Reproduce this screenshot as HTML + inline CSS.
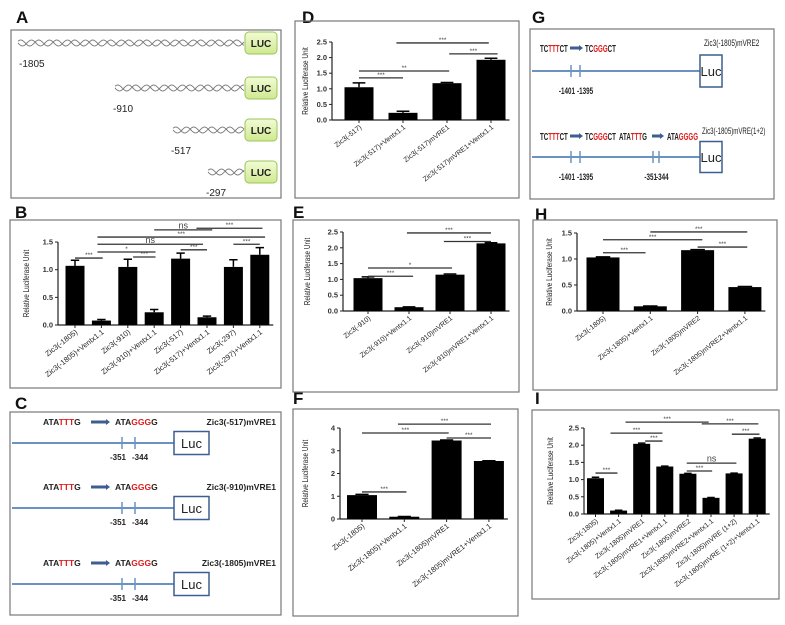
<!DOCTYPE html>
<html><head><meta charset="utf-8"><style>
html,body{margin:0;padding:0;background:#fff;width:785px;height:625px;overflow:hidden}
svg{display:block;font-family:"Liberation Sans",sans-serif}
</style></head><body>
<svg id="fig" width="785" height="625" viewBox="0 0 785 625" xmlns="http://www.w3.org/2000/svg">
<rect width="785" height="625" fill="#fff"/>
<g font-weight="bold" font-size="17" fill="#111">
<text x="16" y="23">A</text>
<text x="15" y="218">B</text>
<text x="15" y="409">C</text>
<text x="302" y="23">D</text>
<text x="293" y="218">E</text>
<text x="293" y="404">F</text>
<text x="532" y="23">G</text>
<text x="535" y="220">H</text>
<text x="535" y="404">I</text>
</g>
<g fill="none" stroke="#777" stroke-width="1.2">
<rect x="11" y="30" width="270" height="168"/>
<rect x="10" y="220" width="271" height="168"/>
<rect x="10" y="412" width="271" height="203"/>
<rect x="295" y="21" width="224" height="177"/>
<rect x="293" y="220" width="226" height="172"/>
<rect x="293" y="409" width="225" height="207"/>
<rect x="530" y="29" width="244" height="170"/>
<rect x="533" y="220" width="244" height="170"/>
<rect x="532" y="410" width="247" height="189"/>
</g>
<defs><linearGradient id="lg" x1="0" y1="0" x2="0" y2="1"><stop offset="0" stop-color="#f3fbd6"/><stop offset="1" stop-color="#cfe98f"/></linearGradient></defs>
<g id="pa"></g><g id="pc"></g><g id="pg"></g><g id="charts"></g>
</svg>
<script>
// ---- Panel B data ----
const bCats = ["Zic3(-1805)","Zic3(-1805)+Ventx1.1","Zic3(-910)","Zic3(-910)+Ventx1.1","Zic3(-517)","Zic3(-517)+Ventx1.1","Zic3(-297)","Zic3(-297)+Ventx1.1"];
const bVals = [1.07,0.08,1.05,0.23,1.2,0.14,1.05,1.27];
const bErrs = [0.1,0.02,0.14,0.05,0.1,0.02,0.13,0.13];
const bTicks = [0,0.5,1.0,1.5];
const bSigFrom = [3,4.6,0.85,0.85,6,0.85,2.2,4,0];
const bSigTo = [5.2,7.1,7.2,4.85,7,3.05,3.05,5,1.05];
const bSigLevel = [1.72,1.75,1.59,1.46,1.46,1.32,1.23,1.36,1.21];
const bSigText = ["ns","***","***","ns","***","*","***","***","***"];
// ---- Panel D data ----
const dCats = ["Zic3(-517)","Zic3(-517)+Ventx1.1","Zic3(-517)mVRE1","Zic3(-517)mVRE1+Ventx1.1"];
const dVals = [1.05,0.23,1.18,1.93];
const dErrs = [0.14,0.05,0.02,0.05];
const dTicks = [0,0.5,1.0,1.5,2.0,2.5];
const dSigFrom = [0.85,2.05,0,0];
const dSigTo = [2.95,3.15,2.05,1];
const dSigLevel = [2.47,2.12,1.57,1.35];
const dSigText = ["***","***","**","***"];
// ---- Panel E data ----
const eCats = ["Zic3(-910)","Zic3(-910)+Ventx1.1","Zic3(-910)mVRE1","Zic3(-910)mVRE1+Ventx1.1"];
const eVals = [1.04,0.12,1.15,2.14];
const eErrs = [0.04,0.01,0.02,0.02];
const eTicks = [0,0.5,1.0,1.5,2.0,2.5];
const eSigFrom = [0.95,1.85,0,0];
const eSigTo = [3,3,2.05,1.1];
const eSigLevel = [2.47,2.2,1.36,1.1];
const eSigText = ["***","***","*","***"];
// ---- Panel F data ----
const fCats = ["Zic3(-1805)","Zic3(-1805)+Ventx1.1","Zic3(-1805)mVRE1","Zic3(-1805)mVRE1+Ventx1.1"];
const fVals = [1.05,0.1,3.45,2.55];
const fErrs = [0.03,0.01,0.02,0.01];
const fTicks = [0,1,2,3,4];
const fSigFrom = [0.85,0,2,0];
const fSigTo = [3.05,2.05,3.05,1.05];
const fSigLevel = [4.17,3.78,3.56,1.19];
const fSigText = ["***","***","***","***"];
// ---- Panel H data ----
const hCats = ["Zic3(-1805)","Zic3(-1805)+Ventx1.1","Zic3(-1805)mVRE2","Zic3(-1805)mVRE2+Ventx1.1"];
const hVals = [1.03,0.09,1.17,0.46];
const hErrs = [0.01,0.005,0.01,0.01];
const hTicks = [0,0.5,1.0,1.5];
const hSigFrom = [1,0,2,0];
const hSigTo = [3.05,2.1,3.05,0.9];
const hSigLevel = [1.52,1.37,1.23,1.12];
const hSigText = ["***","***","***","***"];
// ---- Panel I data ----
const iCats = ["Zic3(-1805)","Zic3(-1805)+Ventx1.1","Zic3(-1805)mVRE1","Zic3(-1805)mVRE1+Ventx1.1","Zic3(-1805)mVRE2","Zic3(-1805)mVRE2+Ventx1.1","Zic3(-1805)mVRE (1+2)","Zic3(-1805)mVRE (1+2)+Ventx1.1"];
const iVals = [1.04,0.1,2.04,1.38,1.17,0.47,1.18,2.19];
const iErrs = [0.03,0.01,0.02,0.01,0.01,0.01,0.01,0.02];
const iTicks = [0,0.5,1.0,1.5,2.0,2.5];
const iSigFrom = [1.3,4.6,0.65,5.9,2.15,3.95,3.95,0];
const iSigTo = [4.9,7.05,2.9,7.1,2.9,6.1,5.05,0.95];
const iSigLevel = [2.67,2.62,2.35,2.32,2.12,1.48,1.25,1.19];
const iSigText = ["***","***","***","***","***","ns","***","***"];

const NS = "http://www.w3.org/2000/svg";
function mk(parent, tag, attrs, txt) {
  const e = document.createElementNS(NS, tag);
  for (const k in attrs) e.setAttribute(k, attrs[k]);
  if (txt !== undefined) e.textContent = txt;
  parent.appendChild(e);
  return e;
}

function chart(id, cats, vals, errs, ticks, fmt, sf, st, sl, stx, geo) {
  const root = document.getElementById("charts");
  const g = mk(root, "g", {});
  
  
  const yScale = v => geo.y0 - v * geo.pxu;
  const xScale = i => geo.x0 + i * geo.step;
  const top = yScale(ticks[ticks.length - 1]);
  const ya = mk(g, "line", {x1: geo.ax, x2: geo.ax, y1: geo.y0, y2: top, stroke: "#222", "stroke-width": 1.2});
  
  
  const xa = mk(g, "line", {x1: geo.ax, x2: xScale(cats.length - 1) + geo.bw / 2 + 4, y1: geo.y0, y2: geo.y0, stroke: "#222", "stroke-width": 1.2});
  
  
  ticks.forEach(t => {
    const y = yScale(t);
    mk(g, "line", {x1: geo.ax - 3, x2: geo.ax, y1: y, y2: y, stroke: "#222", "stroke-width": 1});
    const tl = mk(g, "text", {x: geo.ax - 5, y: y + 2.5, "text-anchor": "end", "font-size": 7.5, "font-weight": "bold", fill: "#333"}, fmt(t));
    
    
  });
  const yt = mk(g, "text", {x: 0, y: 0, "text-anchor": "middle", "font-size": 8, fill: "#222",
    transform: "translate(" + geo.tx + "," + ((geo.y0 + top) / 2) + ") rotate(-90) scale(0.8,1)"}, "Relative Luciferase Unit");
  
  
  cats.forEach((c, i) => {
    const cx = xScale(i);
    const bar = mk(g, "rect", {x: cx - geo.bw / 2, y: yScale(vals[i]), width: geo.bw, height: geo.y0 - yScale(vals[i]), fill: "#000"});
    
    
    const et = yScale(vals[i] + errs[i]);
    const eb = mk(g, "path", {d: "M" + cx + " " + yScale(vals[i]) + "V" + et + "M" + (cx - geo.bw * 0.22) + " " + et + "H" + (cx + geo.bw * 0.22), stroke: "#000", "stroke-width": 1.5, fill: "none"});
    
    
    mk(g, "line", {x1: cx, x2: cx, y1: geo.y0, y2: geo.y0 + 3, stroke: "#222"});
    const xl = mk(g, "text", {x: 0, y: 0, "text-anchor": "end", "font-size": geo.fs, fill: "#222",
      transform: "translate(" + (cx + 3) + "," + (geo.y0 + 8) + ") rotate(-38)"}, c);
    
    
  });
  sf.forEach((a, k) => {
    const y = yScale(sl[k]);
    const x1 = xScale(a), x2 = xScale(st[k]);
    const ln = mk(g, "line", {x1: x1, x2: x2, y1: y, y2: y, stroke: "#333", "stroke-width": 1.3});
    
    
    const isNs = stx[k] === "ns";
    const lb = mk(g, "text", {x: (x1 + x2) / 2, y: isNs ? y - 1.5 : y - 1, "text-anchor": "middle", "font-size": isNs ? 9 : 6.5, fill: "#444"}, stx[k]);
    
    
  });
}
const f1 = t => t.toFixed(1), f0 = t => String(t);
chart("panel-b", bCats, bVals, bErrs, bTicks, f1, bSigFrom, bSigTo, bSigLevel, bSigText, {ax: 58, y0: 325, pxu: 55.3, x0: 75, step: 26.4, bw: 19, tx: 29, fs: 7.5});
chart("panel-d", dCats, dVals, dErrs, dTicks, f1, dSigFrom, dSigTo, dSigLevel, dSigText, {ax: 332, y0: 120, pxu: 31.2, x0: 359, step: 44, bw: 29, tx: 308, fs: 7});
chart("panel-e", eCats, eVals, eErrs, eTicks, f1, eSigFrom, eSigTo, eSigLevel, eSigText, {ax: 343, y0: 311, pxu: 31.6, x0: 368, step: 41, bw: 29, tx: 310, fs: 7});
chart("panel-f", fCats, fVals, fErrs, fTicks, f0, fSigFrom, fSigTo, fSigLevel, fSigText, {ax: 340, y0: 519, pxu: 22.75, x0: 362, step: 42.3, bw: 30, tx: 308, fs: 7.5});
chart("panel-h", hCats, hVals, hErrs, hTicks, f1, hSigFrom, hSigTo, hSigLevel, hSigText, {ax: 577, y0: 311, pxu: 52, x0: 603, step: 47.3, bw: 33, tx: 552, fs: 7});
chart("panel-i", iCats, iVals, iErrs, iTicks, f1, iSigFrom, iSigTo, iSigLevel, iSigText, {ax: 584, y0: 514, pxu: 34.4, x0: 595.5, step: 23.1, bw: 17, tx: 553, fs: 7});

// ---- Panel A: promoter constructs ----
const pa = document.getElementById("pa");
const aStarts = [18, 115, 173, 208];
const aRows = [43, 88, 130, 172];
const aLabels = ["-1805", "-910", "-517", "-297"];
aRows.forEach((y, r) => {
  let d1 = "", d2 = "";
  for (let x = aStarts[r]; x <= 244; x += 1) {
    const ph = (x - aStarts[r]) / 18 * 2 * Math.PI;
    d1 += (x === aStarts[r] ? "M" : "L") + x + " " + (y + 3 * Math.sin(ph)).toFixed(2);
    d2 += (x === aStarts[r] ? "M" : "L") + x + " " + (y - 3 * Math.sin(ph + 0.6)).toFixed(2);
  }
  const w = mk(pa, "path", {d: d1 + d2, fill: "none", stroke: "#777", "stroke-width": 0.9});
  
  
  const lb = mk(pa, "rect", {x: 245, y: y - 11, width: 32, height: 22, rx: 4, fill: "url(#lg)", stroke: "#9bc45a", "stroke-width": 1});
  
  
  const lt = mk(pa, "text", {x: 261, y: y + 4, "text-anchor": "middle", "font-size": 10, "font-weight": "bold", fill: "#222"}, "LUC");
  
  
  const pl = mk(pa, "text", {x: aStarts[r] + (r === 0 ? 1 : -2), y: y + 24, "font-size": 10, fill: "#222"}, aLabels[r]);
  
  
});

// ---- Panel C: mutation constructs ----
const pc = document.getElementById("pc");
const cRows = [443, 508, 584];
const cTitles = ["Zic3(-517)mVRE1", "Zic3(-910)mVRE1", "Zic3(-1805)mVRE1"];
function seq(parent, x, y, parts, fs, scale) {
  const t = mk(parent, "text", {x: 0, y: 0, "font-size": fs, "font-weight": "bold", transform: "translate(" + x + "," + y + ") scale(" + scale + ",1)"});
  parts.forEach(p => { mk(t, "tspan", {fill: p[1]}, p[0]); });
  return t;
}
function arrow(parent, x1, x2, y) {
  const a = mk(parent, "path", {d: "M" + x1 + " " + (y - 1.5) + "H" + (x2 - 4) + "V" + (y - 3) + "L" + x2 + " " + y + "L" + (x2 - 4) + " " + (y + 3) + "V" + (y + 1.5) + "H" + x1 + "Z", fill: "#3c5f8f"});
  
  
}
function construct(parent, y, x0, lx, lw, lh, ticks, labels, lblY, fs, sx) {
  const l = mk(parent, "line", {x1: x0, x2: lx, y1: y, y2: y, stroke: "#6a93c4", "stroke-width": 2});
  
  
  ticks.forEach((tx, k) => {
    mk(parent, "line", {x1: tx, x2: tx, y1: y - 6, y2: y + 6, stroke: "#6a93c4", "stroke-width": 1.5});
    const first = k % 2 === 0;
    const tl = mk(parent, "text", {x: 0, y: 0, "text-anchor": first ? "end" : "start", "font-size": fs, "font-weight": "bold", fill: "#222",
      transform: "translate(" + (first ? tx + 4 : tx - 3) + "," + (y + lblY) + ") scale(" + sx + ",1)"}, labels[k]);
    
    
  });
  const b = mk(parent, "rect", {x: lx, y: y - lh / 2, width: lw, height: lh, fill: "#fff", stroke: "#3c5f8f", "stroke-width": 1.5});
  
  
  const bt = mk(parent, "text", {x: lx + lw / 2, y: y + 5, "text-anchor": "middle", "font-size": 13, fill: "#222"}, "Luc");
  
  
}
cRows.forEach((y, r) => {
  construct(pc, y, 12, 174, 35, 23, [122, 135], ["-351", "-344"], 17, 8, 1);
  const s1 = seq(pc, 43, y - 18, [["ATA", "#222"], ["TTT", "#e01b1b"], ["G", "#222"]], 8.5, 1);
  
  
  arrow(pc, 91, 110, y - 21);
  const s2 = seq(pc, 115, y - 18, [["ATA", "#222"], ["GGG", "#e01b1b"], ["G", "#222"]], 8.5, 1);
  
  
  const tt = mk(pc, "text", {x: 276, y: y - 18, "text-anchor": "end", "font-size": 8.5, "font-weight": "bold", fill: "#222"}, cTitles[r]);
  
  
});

// ---- Panel G ----
const pg = document.getElementById("pg");
construct(pg, 71, 532, 700, 22, 32, [571, 580], ["-1401", "-1395"], 23, 9, 0.7);
construct(pg, 157, 532, 700, 22, 31, [571, 580, 653, 659], ["-1401", "-1395", "-351", "-344"], 23, 9, 0.7);
const gSeqs = [
  [540, 52, [["TC", "#222"], ["TTT", "#e01b1b"], ["CT", "#222"]]],
  [585, 52, [["TC", "#222"], ["GGG", "#e01b1b"], ["CT", "#222"]]],
  [540, 140, [["TC", "#222"], ["TTT", "#e01b1b"], ["CT", "#222"]]],
  [585, 140, [["TC", "#222"], ["GGG", "#e01b1b"], ["CT", "#222"]]],
  [619, 140, [["ATA", "#222"], ["TTT", "#e01b1b"], ["G", "#222"]]],
  [667, 140, [["ATA", "#222"], ["GGGG", "#e01b1b"]]]
];
gSeqs.forEach(s => {
  const t = seq(pg, s[0], s[1], s[2], 10, 0.62);
  
  
});
arrow(pg, 570, 583, 48);
arrow(pg, 570, 583, 136);
arrow(pg, 652, 664, 136);
const g1 = mk(pg, "text", {x: 0, y: 0, "font-size": 9, fill: "#222", transform: "translate(704,46) scale(0.72,1)"}, "Zic3(-1805)mVRE2");


const g2 = mk(pg, "text", {x: 0, y: 0, "font-size": 9, fill: "#222", transform: "translate(702,134) scale(0.68,1)"}, "Zic3(-1805)mVRE(1+2)");


</script>
</body></html>
